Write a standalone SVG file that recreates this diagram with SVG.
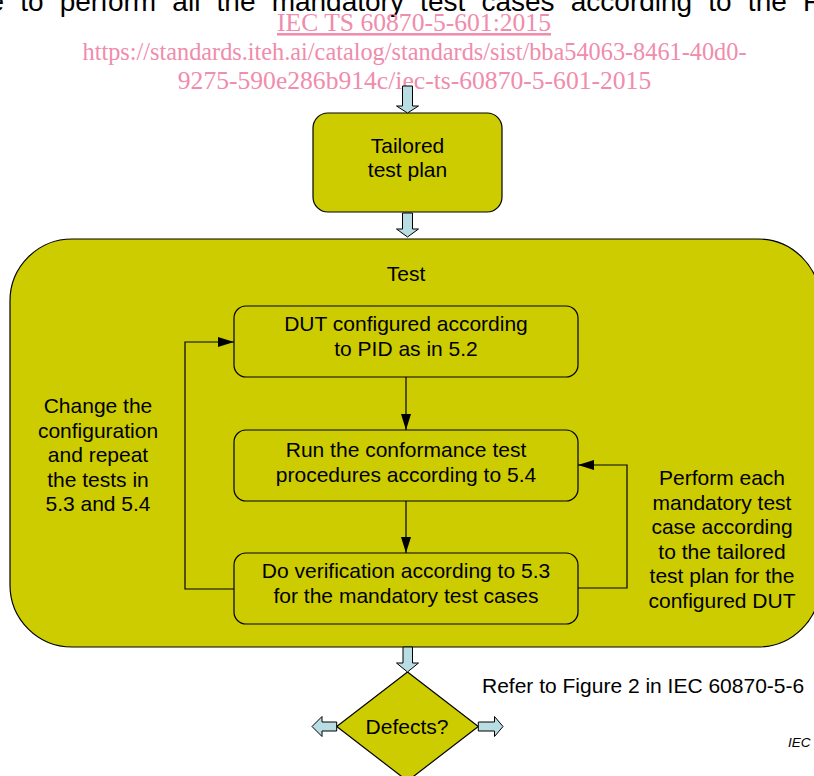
<svg xmlns="http://www.w3.org/2000/svg" width="814" height="776" viewBox="0 0 814 776">
<style>
.node{fill:#cccc00;stroke:#000;stroke-width:1.2}
.t{font-family:"Liberation Sans",Arial,sans-serif;font-size:21px;fill:#000;text-anchor:middle}
.pink{font-family:"Liberation Serif","Times New Roman",serif;font-size:25.6px;fill:#f08cac;text-anchor:middle}
.blk{fill:#b8dde3;stroke:#000;stroke-width:1}
.con{fill:none;stroke:#000;stroke-width:1.2}
</style>
<defs>
<marker id="ah" viewBox="0 0 16 10" refX="16" refY="5" markerWidth="16" markerHeight="10" markerUnits="userSpaceOnUse" orient="auto">
<path d="M0,0 L16,5 L0,10 Z" fill="#000"/>
</marker>
</defs>
<rect width="814" height="776" fill="#fff"/>
<text x="-11.6" y="11" font-family="'Liberation Sans',Arial,sans-serif" font-size="28" word-spacing="8.4" fill="#000">e to perform all the mandatory test cases according to the F</text>
<text class="pink" x="414" y="31" text-decoration="underline">IEC TS 60870-5-601:2015</text>
<text class="pink" x="414.5" y="59.5" style="font-size:24.3px">https://standards.iteh.ai/catalog/standards/sist/bba54063-8461-40d0-</text>
<text class="pink" x="414.5" y="89">9275-590e286b914c/iec-ts-60870-5-601-2015</text>

<g id="test">
<rect class="node" x="10" y="239" width="810" height="408" rx="62" ry="62"/>
<text class="t" x="406" y="281">Test</text>
</g>
<g id="tailored">
<rect class="node" x="313" y="113" width="189" height="99" rx="15" ry="15"/>
<text class="t" x="407.5" y="153">Tailored</text>
<text class="t" x="407.5" y="177">test plan</text>
</g>
<g id="dut">
<rect class="node" x="234" y="306" width="344" height="71" rx="12" ry="12"/>
<text class="t" x="406" y="331">DUT configured according</text>
<text class="t" x="406" y="356">to PID as in 5.2</text>
</g>
<g id="run">
<rect class="node" x="234" y="430" width="344" height="71" rx="12" ry="12"/>
<text class="t" x="406" y="457">Run the conformance test</text>
<text class="t" x="406" y="482">procedures according to 5.4</text>
</g>
<g id="verify">
<rect class="node" x="234" y="553" width="344" height="71" rx="12" ry="12"/>
<text class="t" x="406" y="578">Do verification according to 5.3</text>
<text class="t" x="406" y="603">for the mandatory test cases</text>
</g>
<g id="change-label">
<text class="t" x="98" y="413">Change the</text>
<text class="t" x="98" y="437.5">configuration</text>
<text class="t" x="98" y="462">and repeat</text>
<text class="t" x="98" y="486.5">the tests in</text>
<text class="t" x="98" y="511">5.3 and 5.4</text>
</g>
<g id="perform-label">
<text class="t" x="722" y="485">Perform each</text>
<text class="t" x="722" y="509.6">mandatory test</text>
<text class="t" x="722" y="534.2">case according</text>
<text class="t" x="722" y="558.8">to the tailored</text>
<text class="t" x="722" y="583.4">test plan for the</text>
<text class="t" x="722" y="608">configured DUT</text>
</g>
<g id="defects">
<path class="node" d="M407.5,672 L478.3,726.5 L407.5,781 L336.7,726.5 Z"/>
<text class="t" x="407" y="733.5">Defects?</text>
</g>
<g id="refer-label">
<text x="482" y="693" font-family="'Liberation Sans',Arial,sans-serif" font-size="21" fill="#000">Refer to Figure 2 in IEC 60870-5-6</text>
</g>
<text x="788" y="747" font-family="'Liberation Sans',Arial,sans-serif" font-size="13.5" font-style="italic" fill="#000">IEC</text>

<g id="connectors">
<path class="blk" d="M402.5,86 L412.5,86 L412.5,106 L418.5,106 L407.5,113 L396.5,106 L402.5,106 Z"/>
<path class="blk" d="M402.5,213 L412.5,213 L412.5,229 L418.5,229 L407.5,237 L396.5,229 L402.5,229 Z"/>
<path class="blk" d="M403,647 L412.5,647 L412.5,663 L418.5,663 L407.5,672 L396.5,663 L403,663 Z"/>
<path class="blk" d="M336.7,722 L322,722 L322,716.5 L312,726.5 L322,736.5 L322,731 L336.7,731 Z"/>
<path class="blk" d="M478.3,722 L494.5,722 L494.5,716.5 L503,726.5 L494.5,736.5 L494.5,731 L478.3,731 Z"/>
<path class="con" d="M406,377 L406,430" marker-end="url(#ah)"/>
<path class="con" d="M406,501 L406,553" marker-end="url(#ah)"/>
<path class="con" d="M234,589 L185,589 L185,342 L234,342" marker-end="url(#ah)"/>
<path class="con" d="M578,588 L627,588 L627,465 L578,465" marker-end="url(#ah)"/>
</g>
</svg>
